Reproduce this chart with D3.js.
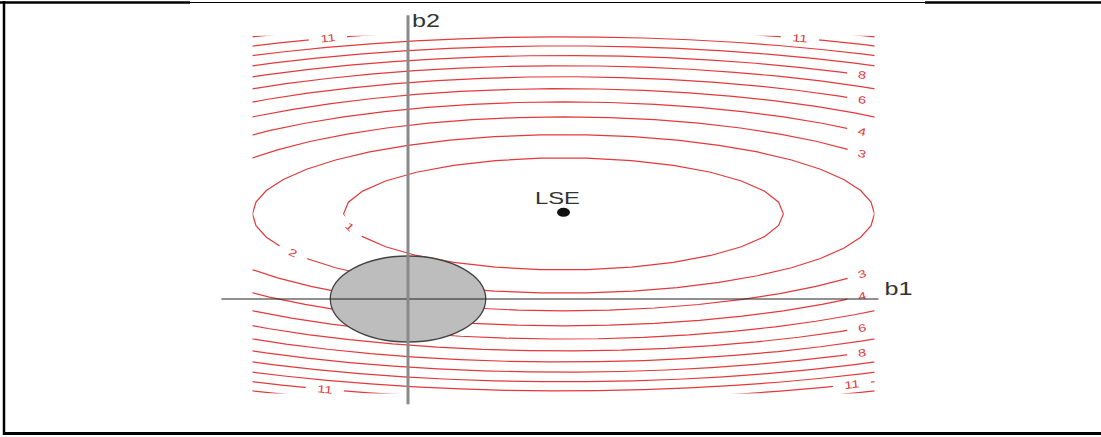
<!DOCTYPE html>
<html>
<head>
<meta charset="utf-8">
<script src="https://cdn.jsdelivr.net/npm/d3@7"></script>
<style>
  body { margin: 0; background: #fff; }
  svg { display: block; }
</style>
</head>
<body>
<svg id="chart" width="1101" height="437"></svg>
<script>
// Least-squares estimate and the quadratic RSS surface around it
const lse = [2, 1.98];
const rssCurvature = [0.125, 0.59];           // weights on (b1 - lse1)^2 and (b2 - lse2)^2
const levels = [1, 2, 3, 4, 5, 6, 7, 8, 9, 10, 11, 12];

// Ridge constraint  b1^2 + b2^2 <= s
const constraintRadius = 1;

// Region the contours are evaluated on, and the extent of the two axis lines
const b1Extent = [-2, 6];
const b2Extent = [-2.2, 6.12];
const b1AxisExtent = [-2.4, 6.05];
const b2AxisExtent = [-2.45, 6.6];

// Contour labels: level, b1 position, which half of the ellipse
const labelLevels = [11, 11, 8, 6, 4, 3, 3, 4, 6, 8, 11, 11, 2, 1];
const labelB1 = [-1.03, 5.04, 5.84, 5.84, 5.84, 5.84, 5.84, 5.84, 5.84, 5.84, 5.71, -1.07, -1.48, -0.75];
const labelSide = [1, 1, 1, 1, 1, 1, -1, -1, -1, -1, -1, -1, -1, -1];

const W = 1101, H = 437;
const svg = d3.select("#chart");

// Scales (pixels per unit differ on the two axes)
const x = d3.scaleLinear().domain(b1Extent).range([252.5, 874.5]);
const y = d3.scaleLinear().domain([0, 1]).range([299, 256]);

const red = "#e3393b";
const [a, c] = rssCurvature;

// b2 on a contour of level k at a given b1 (side = +1 upper, -1 lower)
function b2On(k, b1, side) {
  const rest = (k - a * (b1 - lse[0]) ** 2) / c;
  return lse[1] + side * Math.sqrt(Math.max(rest, 0));
}

// Frame
const frame = svg.append("g").attr("stroke", "#000").attr("fill", "none");
frame.append("line").attr("x1", 4).attr("x2", 4).attr("y1", 1).attr("y2", 435).attr("stroke-width", 2.5);
frame.append("line").attr("x1", 0).attr("x2", 190).attr("y1", 2.5).attr("y2", 2.5).attr("stroke-width", 2.5);
frame.append("line").attr("x1", 190).attr("x2", 925).attr("y1", 2.5).attr("y2", 2.5).attr("stroke-width", 1.2);
frame.append("line").attr("x1", 925).attr("x2", W).attr("y1", 2.5).attr("y2", 2.5).attr("stroke-width", 2.5);
frame.append("line").attr("x1", 3).attr("x2", W).attr("y1", 433.5).attr("y2", 433.5).attr("stroke-width", 3);

const defs = svg.append("defs");
defs.append("clipPath").attr("id", "grid-clip")
  .append("rect")
  .attr("x", x(b1Extent[0])).attr("y", y(b2Extent[1]))
  .attr("width", x(b1Extent[1]) - x(b1Extent[0]))
  .attr("height", y(b2Extent[0]) - y(b2Extent[1]));

// Label geometry
const labelFont = 10.5, labelStretch = 1.4;
const labels = labelLevels.map((k, i) => {
  const b1 = labelB1[i], side = labelSide[i];
  const px = x(b1), py = y(b2On(k, b1, side));
  const px2 = x(b1 + 0.01), py2 = y(b2On(k, b1 + 0.01, side));
  const angle = Math.atan2(py2 - py, px2 - px) * 180 / Math.PI;
  const width = String(k).length * labelFont * 0.556 * labelStretch + 22;
  return { k, px, py, angle, width };
});

// One mask per level, cutting the line where its labels sit
levels.forEach(k => {
  const m = defs.append("mask").attr("id", "gap-" + k)
    .attr("maskUnits", "userSpaceOnUse")
    .attr("x", 0).attr("y", 0).attr("width", W).attr("height", H);
  m.append("rect").attr("width", W).attr("height", H).attr("fill", "#fff");
  labels.filter(l => l.k === k).forEach(l => {
    m.append("rect")
      .attr("transform", `translate(${l.px},${l.py}) rotate(${l.angle})`)
      .attr("x", -l.width / 2).attr("y", -4).attr("width", l.width).attr("height", 8)
      .attr("fill", "#000");
  });
});

// Contour ellipses
const line = d3.line().x(d => x(d[0])).y(d => y(d[1]));
const contourG = svg.append("g").attr("clip-path", "url(#grid-clip)");
levels.forEach(k => {
  const n = Math.round(30 * Math.sqrt(k));
  const rx = Math.sqrt(k / a), ry = Math.sqrt(k / c);
  const pts = d3.range(n + 1).map(i => {
    const t = 2 * Math.PI * i / n;
    return [lse[0] + rx * Math.cos(t), lse[1] + ry * Math.sin(t)];
  });
  contourG.append("path")
    .attr("d", line(pts))
    .attr("fill", "none")
    .attr("stroke", red)
    .attr("stroke-width", 1.2)
    .attr("mask", `url(#gap-${k})`);
});

// Contour labels
svg.append("g").selectAll("text").data(labels).join("text")
  .attr("transform", d => `translate(${d.px},${d.py}) rotate(${d.angle}) scale(${labelStretch},1)`)
  .attr("text-anchor", "middle")
  .attr("dy", "0.35em")
  .attr("font-family", "Liberation Sans, Arial, sans-serif")
  .attr("font-size", labelFont)
  .attr("fill", red)
  .text(d => d.k);

// Constraint region
svg.append("ellipse")
  .attr("cx", x(0)).attr("cy", y(0))
  .attr("rx", x(constraintRadius) - x(0))
  .attr("ry", y(0) - y(constraintRadius))
  .attr("fill", "#bdbdbd")
  .attr("stroke", "#444")
  .attr("stroke-width", 1.3);

// Axes
svg.append("line")
  .attr("x1", x(b1AxisExtent[0])).attr("x2", x(b1AxisExtent[1]))
  .attr("y1", y(0)).attr("y2", y(0))
  .attr("stroke", "#222").attr("stroke-width", 1.2);
svg.append("line")
  .attr("x1", x(0)).attr("x2", x(0))
  .attr("y1", y(b2AxisExtent[0])).attr("y2", y(b2AxisExtent[1]))
  .attr("stroke", "#8a8a8a").attr("stroke-width", 3);

const textStretch = 1.4;
function stretchedText(px, py, str, size, anchor) {
  svg.append("text")
    .attr("transform", `translate(${px},${py}) scale(${textStretch},1)`)
    .attr("text-anchor", anchor)
    .attr("font-family", "Liberation Sans, Arial, sans-serif")
    .attr("font-size", size)
    .attr("fill", "#333")
    .text(str);
}
stretchedText(x(b1AxisExtent[1]) + 6, y(0) - 4, "b1", 18, "start");
stretchedText(x(0) + 4, y(b2AxisExtent[1]) + 12, "b2", 18, "start");

// Least-squares estimate
svg.append("ellipse")
  .attr("cx", x(lse[0])).attr("cy", y(lse[1]) - 1.5)
  .attr("rx", 6.5).attr("ry", 4.5)
  .attr("fill", "#111");
stretchedText(x(lse[0]) - 6, y(lse[1]) - 10, "LSE", 17, "middle");
</script>
</body>
</html>
